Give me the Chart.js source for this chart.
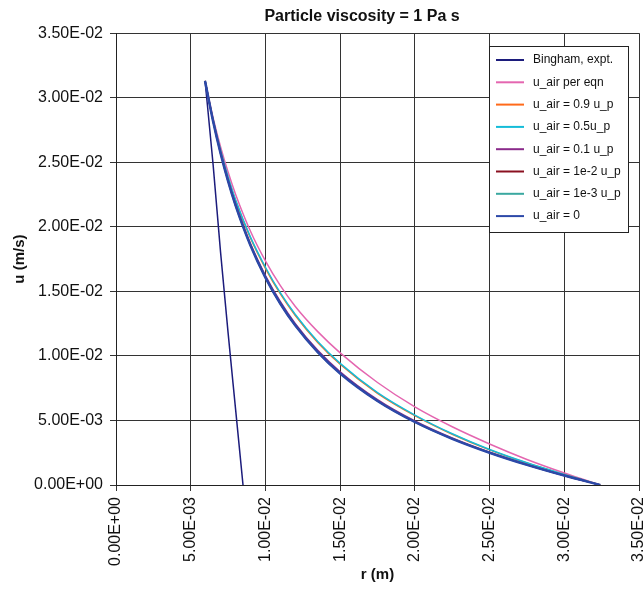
<!DOCTYPE html>
<html>
<head>
<meta charset="utf-8">
<script src="https://cdn.jsdelivr.net/npm/chart.js@4.4.1/dist/chart.umd.min.js"></script>
<style>
  html, body { margin: 0; padding: 0; background: #fff; }
  #wrap { width: 643px; height: 592px; }
</style>
</head>
<body>
<div id="wrap"><canvas id="velChart" width="643" height="592"></canvas></div>
<script>
// Particle velocity vs radius, several air-drag assumptions
const rModel  = [0.00596, 0.0065, 0.007, 0.0075, 0.008, 0.009, 0.010, 0.011, 0.012, 0.0135, 0.015, 0.0175, 0.020, 0.0225, 0.025, 0.0275, 0.030, 0.0324];
const uPerEqn = [0.0313, 0.02844, 0.02619, 0.02424, 0.02253, 0.01966, 0.01736, 0.01544, 0.01383, 0.01188, 0.01024, 0.00794, 0.00605, 0.00451, 0.00318, 0.00198, 0.00093, 0.0];
const u09     = [0.0313, 0.02828, 0.02590, 0.02383, 0.02203, 0.01913, 0.01678, 0.01480, 0.01313, 0.01104, 0.00935, 0.00710, 0.00537, 0.00393, 0.00272, 0.00170, 0.00081, 0.0];
const u05     = [0.0313, 0.02830, 0.02594, 0.02388, 0.02209, 0.01920, 0.01687, 0.01488, 0.01321, 0.01111, 0.00942, 0.00716, 0.00542, 0.00397, 0.00275, 0.00172, 0.00082, 0.0];
const u01     = [0.0313, 0.02822, 0.02578, 0.02365, 0.02180, 0.01870, 0.01623, 0.01420, 0.01250, 0.01043, 0.00877, 0.00661, 0.00496, 0.00364, 0.00254, 0.00159, 0.00074, 0.0];
const u1em2   = [0.0313, 0.02817, 0.02569, 0.02355, 0.02168, 0.01857, 0.01609, 0.01406, 0.01237, 0.01031, 0.00866, 0.00652, 0.00489, 0.00359, 0.00251, 0.00157, 0.00073, 0.0];
const u1em3   = [0.0313, 0.02816, 0.02568, 0.02353, 0.02166, 0.01855, 0.01607, 0.01404, 0.01235, 0.01029, 0.00864, 0.00651, 0.00488, 0.00358, 0.00250, 0.00156, 0.00073, 0.0];
const uZero   = [0.0313, 0.02816, 0.02568, 0.02353, 0.02166, 0.01855, 0.01607, 0.01404, 0.01235, 0.01029, 0.00864, 0.00651, 0.00488, 0.00358, 0.00250, 0.00156, 0.00073, 0.0];

const rBingham = [0.00596, 0.0065, 0.0070, 0.0075, 0.0080, 0.0085];
const uBingham = [0.0313, 0.0248, 0.0180, 0.0118, 0.0059, 0.0];

const seriesNames = ['Bingham, expt.', 'u_air per eqn', 'u_air = 0.9 u_p', 'u_air = 0.5u_p',
                     'u_air = 0.1 u_p', 'u_air = 1e-2 u_p', 'u_air = 1e-3 u_p', 'u_air = 0'];
const seriesColors = ['#1c1c7c', '#e466b0', '#ff6a1a', '#14bcd8', '#8a2a8a', '#8a1020', '#3aa8a0', '#2c48a8'];
const seriesWidths = [1.5, 1.5, 1.5, 1.5, 1.5, 1.5, 1.5, 2.5];

const axisTicks = [0, 0.005, 0.010, 0.015, 0.020, 0.025, 0.030, 0.035];

function pts(xs, ys) {
    return xs.map((x, i) => ({ x: x, y: ys[i] }));
}

function sci(v) {
    if (Math.abs(v) < 1e-12) return '0.00E+00';
    const parts = v.toExponential(2).split('e');
    const n = parseInt(parts[1], 10);
    return parts[0] + 'E' + (n < 0 ? '-' : '+') + String(Math.abs(n)).padStart(2, '0');
}

const allData = [
    pts(rBingham, uBingham),
    pts(rModel, uPerEqn),
    pts(rModel, u09),
    pts(rModel, u05),
    pts(rModel, u01),
    pts(rModel, u1em2),
    pts(rModel, u1em3),
    pts(rModel, uZero)
];

const datasets = allData.map((d, i) => ({
    label: seriesNames[i],
    data: d,
    showLine: true,
    borderColor: seriesColors[i],
    backgroundColor: seriesColors[i],
    borderWidth: seriesWidths[i],
    pointRadius: 0,
    fill: false,
    cubicInterpolationMode: 'monotone',
    order: 7 - i
}));

const FONT = '"Liberation Sans", Arial, sans-serif';

// legend box drawn inside the plot, upper right
const boxLegend = {
    id: 'boxLegend',
    afterLayout(chart) {
        // excel centres the title a bit right of the canvas middle
        if (chart.titleBlock) {
            chart.titleBlock.left = 80;
            chart.titleBlock.right = 644;
        }
    },
    afterDraw(chart) {
        const c = chart.ctx;
        const x0 = 489, y0 = 46, w = 139, h = 186;
        c.save();
        c.fillStyle = '#fff';
        c.fillRect(x0, y0, w, h);
        c.strokeStyle = '#222';
        c.lineWidth = 1;
        c.strokeRect(x0 + 0.5, y0 + 0.5, w, h);
        c.font = '12px ' + FONT;
        c.textBaseline = 'middle';
        chart.data.datasets.forEach((ds, i) => {
            const y = 60 + i * 22.3;
            c.strokeStyle = ds.borderColor;
            c.lineWidth = 2;
            c.beginPath();
            c.moveTo(496, y);
            c.lineTo(524, y);
            c.stroke();
            c.fillStyle = '#111';
            c.fillText(ds.label, 533, y);
        });
        c.restore();
    }
};

const ctx = document.getElementById('velChart').getContext('2d');
const velChart = new Chart(ctx, {
    type: 'scatter',
    data: { datasets: datasets },
    plugins: [boxLegend],
    options: {
        responsive: false,
        animation: false,
        layout: { padding: { top: 0, right: 4, left: 0, bottom: 0 } },
        plugins: {
            legend: { display: false },
            tooltip: { enabled: false },
            title: {
                display: true,
                text: 'Particle viscosity = 1 Pa s',
                color: '#111',
                font: { family: FONT, size: 16, weight: 'bold' },
                padding: { top: 7, bottom: 7 }
            }
        },
        scales: {
            x: {
                type: 'linear',
                min: axisTicks[0],
                max: axisTicks[axisTicks.length - 1],
                afterFit: (s) => { s.height = 107; s.paddingLeft = 0; s.paddingRight = 0; },
                afterBuildTicks: (s) => { s.ticks = axisTicks.map(v => ({ value: v })); },
                ticks: {
                    color: '#111',
                    font: { family: FONT, size: 16 },
                    minRotation: 90,
                    maxRotation: 90,
                    padding: 6,
                    callback: (v) => sci(v)
                },
                grid: { color: '#333', lineWidth: 1, tickLength: 6, tickColor: '#333' },
                border: { color: '#222', width: 1 },
                title: {
                    display: true,
                    text: 'r (m)',
                    color: '#111',
                    font: { family: FONT, size: 15, weight: 'bold' },
                    padding: { top: 4, bottom: 8 }
                }
            },
            y: {
                type: 'linear',
                min: axisTicks[0],
                max: axisTicks[axisTicks.length - 1],
                afterFit: (s) => { s.width = 116; },
                afterBuildTicks: (s) => { s.ticks = axisTicks.map(v => ({ value: v })); },
                ticks: {
                    color: '#111',
                    font: { family: FONT, size: 16 },
                    padding: 7,
                    callback: (v) => sci(v)
                },
                grid: { color: '#333', lineWidth: 1, tickLength: 6, tickColor: '#333' },
                border: { color: '#222', width: 1 },
                title: {
                    display: true,
                    text: 'u (m/s)',
                    color: '#111',
                    font: { family: FONT, size: 15, weight: 'bold' },
                    padding: { top: 11, bottom: 4 }
                }
            }
        }
    }
});
</script>
</body>
</html>
